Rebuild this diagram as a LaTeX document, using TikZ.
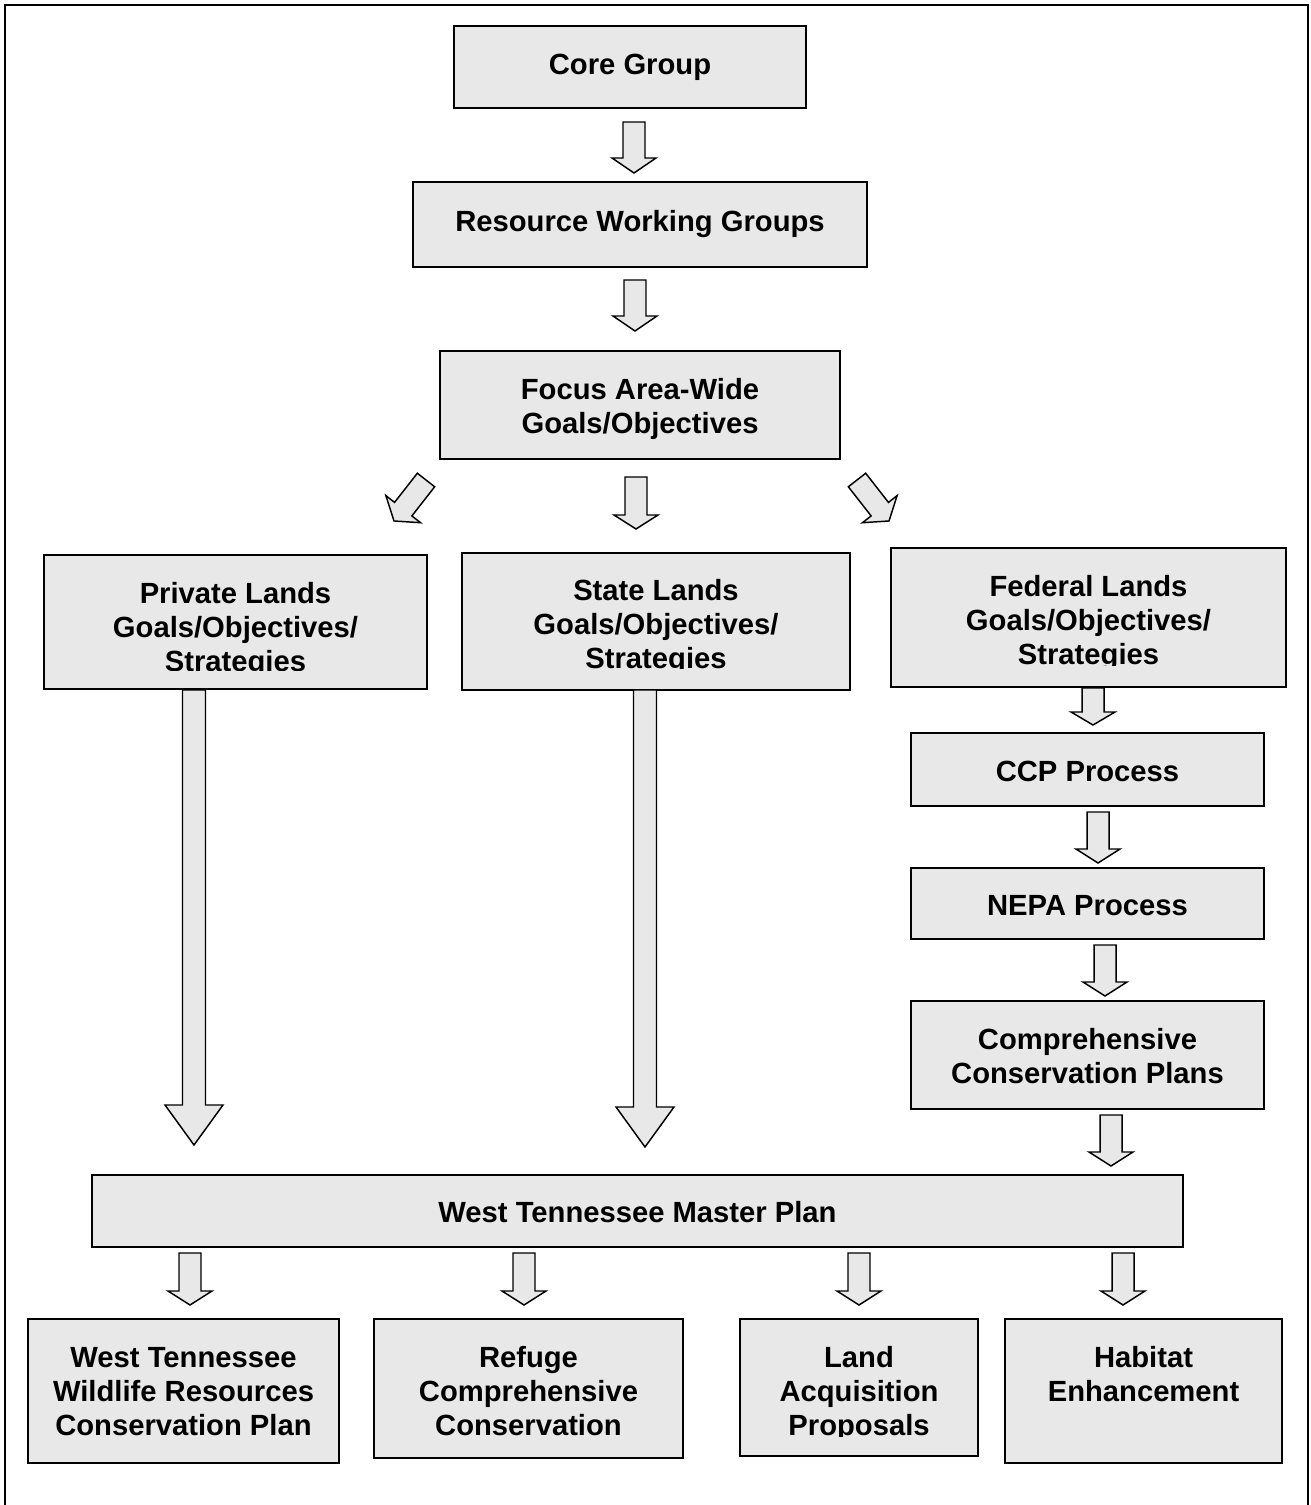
\documentclass[tikz,border=0pt]{standalone}
\usepackage{fontspec}
\setmainfont{Liberation Sans}
\usetikzlibrary{fit}
\definecolor{boxgray}{RGB}{232,232,232}
\tikzset{
  box/.style={draw=black, line width=1.4pt, fill=boxgray, inner sep=0pt},
  txt/.style={align=center, font=\bfseries\fontsize{21.9pt}{25.5pt}\selectfont, inner sep=0pt},
  arrowfill/.style={draw=black, line width=1.1pt, fill=boxgray, line join=miter},
  pics/barrow/.style n args={4}{code={
    \draw[arrowfill] (-#3/2,0) -- (#3/2,0) -- (#3/2,#1-#2) -- (#4/2,#1-#2) -- (0,#1)
      -- (-#4/2,#1-#2) -- (-#3/2,#1-#2) -- cycle;}},
}
\newcommand\mybox[7]{% name x1 y1 x2 y2 texty text
  \node[box, fit={(#2,#3) (#4,#5)}] (#1) {};
  \node[txt] (#1t) at ({(#2+#4)/2},#6) {#7};
}
\newcommand\myclipbox[8]{% name x1 y1 x2 y2 texty clipy text
  \node[box, fit={(#2,#3) (#4,#5)}] (#1) {};
  \begin{scope}
    \clip (#2,#3) rectangle (#4,#7);
    \node[txt] (#1t) at ({(#2+#4)/2},#6) {#8};
  \end{scope}
}
\begin{document}
\begin{tikzpicture}[x=0.75pt,y=-0.75pt]
\useasboundingbox (0,0) rectangle (1310,1505);
% outer frame (open at the bottom)
\draw[line width=1.5pt] (5,1505) -- (5,5) -- (1308,5) -- (1308,1505);

\mybox{core}{454}{26}{806}{108}{67}{Core Group}
\mybox{rwg}{413}{182}{867}{267}{224}{Resource Working Groups}
\mybox{focus}{440}{351}{840}{459}{409}{Focus Area-Wide\\Goals/Objectives}
\myclipbox{private}{44}{555}{427}{689}{630}{670}{Private Lands\\Goals/Objectives/\\Strategies}
\myclipbox{state}{462}{553}{850}{690}{627}{668}{State Lands\\Goals/Objectives/\\Strategies}
\myclipbox{federal}{891}{548}{1286}{687}{623}{665}{Federal Lands\\Goals/Objectives/\\Strategies}
\mybox{ccp}{911}{733}{1264}{806}{771}{CCP Process}
\mybox{nepa}{911}{868}{1264}{939}{906}{NEPA Process}
\mybox{comp}{911}{1001}{1264}{1109}{1056}{Comprehensive\\Conservation Plans}
\mybox{master}{92}{1175}{1183}{1247}{1212}{West Tennessee Master Plan}
\mybox{wtwr}{28}{1319}{339}{1463}{1392}{West Tennessee\\Wildlife Resources\\Conservation Plan}
\mybox{refuge}{374}{1319}{683}{1458}{1391}{Refuge\\Comprehensive\\Conservation}
\myclipbox{land}{740}{1319}{978}{1456}{1394}{1436}{Land\\Acquisition\\Proposals}
\mybox{habitat}{1005}{1319}{1282}{1463}{1374}{Habitat\\Enhancement}

% block arrows
\pic at (634,122) {barrow={51}{15}{22}{44}};
\pic at (635,280) {barrow={51}{15}{22}{44}};
\pic[rotate=-38] at (426,480) {barrow={52}{15}{22}{44}};
\pic at (636,477) {barrow={52}{14}{22}{44}};
\pic[rotate=38] at (857,480) {barrow={52}{15}{22}{44}};
\pic at (194,690) {barrow={455}{40}{23}{58}};
\pic at (645,690) {barrow={457}{40}{23}{58}};
\pic at (1093,688) {barrow={37}{13}{22}{44}};
\pic at (1098,812) {barrow={51}{14}{22}{44}};
\pic at (1105,945) {barrow={51}{14}{22}{44}};
\pic at (1111,1115) {barrow={51}{14}{22}{44}};
\pic at (190,1253) {barrow={52}{14}{22}{44}};
\pic at (524,1253) {barrow={52}{14}{22}{44}};
\pic at (859,1253) {barrow={52}{14}{22}{44}};
\pic at (1123,1253) {barrow={52}{14}{22}{44}};
\end{tikzpicture}
\end{document}
